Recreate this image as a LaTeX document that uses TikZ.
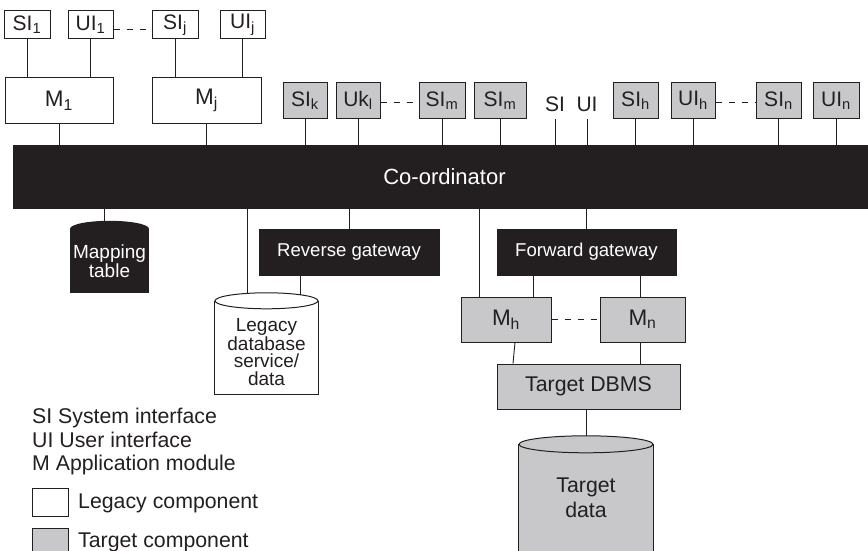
\documentclass[tikz,border=0pt]{standalone}
\usepackage{fontspec}
\setmainfont{Liberation Sans}
\usetikzlibrary{calc,backgrounds}
\definecolor{ink}{HTML}{231F20}
\definecolor{tgray}{HTML}{C8C8CA}
\begin{document}
\begin{tikzpicture}[x=1pt,y=-1pt,
  box/.style={draw=ink, line width=1pt, inner sep=0pt, text=ink, font=\fontsize{21}{23}\selectfont},
  legbox/.style={box, fill=white},
  tbox/.style={box, fill=tgray},
  blk/.style={fill=ink, draw=ink, inner sep=0pt, text=white, font=\fontsize{18.6}{21}\selectfont},
  plain/.style={inner sep=0pt, text=ink, font=\fontsize{21}{23}\selectfont},
  cyl/.style={inner sep=0pt},
  conn/.style={draw=ink, line width=0.9pt},
  dashconn/.style={conn, dash pattern=on 6pt off 7pt},
]
\useasboundingbox (0,0) rectangle (868,551);

% top-left legacy interfaces
\node[legbox, minimum width=46pt, minimum height=28pt] (si1) at (27,25) {SI\textsubscript{1}};
\node[legbox, minimum width=45pt, minimum height=28pt] (ui1) at (90.5,25) {UI\textsubscript{1}};
\node[legbox, minimum width=46pt, minimum height=28pt] (sij) at (175,25) {SI\textsubscript{j}};
\node[legbox, minimum width=45pt, minimum height=28pt] (uij) at (242.5,25) {UI\textsubscript{j}};
\node[legbox, minimum width=108pt, minimum height=45pt, font=\fontsize{22.5}{24}\selectfont] (m1) at (59,100.5) {M\textsubscript{1}};
\node[legbox, minimum width=109pt, minimum height=45pt, font=\fontsize{22.5}{24}\selectfont] (mj) at (206.5,100.5) {M\textsubscript{j}};

% top row target interfaces
\node[tbox, minimum width=44pt, minimum height=35pt] (sik) at (305,100.5) {SI\textsubscript{k}};
\node[tbox, minimum width=44pt, minimum height=35pt] (ukl) at (358,100.5) {Uk\textsubscript{l}};
\node[tbox, minimum width=46pt, minimum height=35pt] (sim) at (442,100.5) {SI\textsubscript{m}};
\node[tbox, minimum width=52pt, minimum height=35pt] (simb) at (500,100.5) {SI\textsubscript{m}};
\node[plain, minimum height=30pt] (si0) at (555,104) {SI};
\node[plain, minimum height=30pt] (ui0) at (587,104) {UI};
\node[tbox, minimum width=45pt, minimum height=35pt] (sih) at (635.5,100.5) {SI\textsubscript{h}};
\node[tbox, minimum width=44pt, minimum height=35pt] (uih) at (693,100.5) {UI\textsubscript{h}};
\node[tbox, minimum width=45pt, minimum height=35pt] (sin) at (778.5,100.5) {SI\textsubscript{n}};
\node[tbox, minimum width=46pt, minimum height=35pt] (uin) at (836,100.5) {UI\textsubscript{n}};

% coordinator
\node[blk, minimum width=855pt, minimum height=63pt, font=\fontsize{22}{24}\selectfont] (coord) at (440.5,176.5) {\hspace{8pt}Co-ordinator};

% gateways
\node[blk, minimum width=180pt, minimum height=46pt] (rg) at (349,252) {Reverse gateway\hspace{14pt}};
\node[blk, minimum width=179pt, minimum height=46pt] (fg) at (586.5,252) {Forward gateway\hspace{14pt}};

% target modules
\node[tbox, minimum width=90pt, minimum height=45pt, font=\fontsize{22.5}{24}\selectfont] (mh) at (506,319.5) {M\textsubscript{h}};
\node[tbox, minimum width=85pt, minimum height=45pt, font=\fontsize{22.5}{24}\selectfont] (mn) at (642.5,319.5) {M\textsubscript{n}};
\node[tbox, minimum width=183pt, minimum height=45pt, font=\fontsize{21.3}{23}\selectfont] (db) at (588.5,386.5) {Target DBMS};

% cylinders (geometry nodes)
\node[cyl, minimum width=79pt, minimum height=64pt, text=white, align=center, font=\fontsize{19}{17.7}\selectfont] (map) at (109.5,261) {Mapping\\table};
\node[cyl, minimum width=103pt, minimum height=93pt] (leg) at (266.5,347.5) {};
\node[plain, align=center, font=\fontsize{19}{17.4}\selectfont] (legt) at (266.5,352) {Legacy\\database\\service/\\data};
\node[cyl, minimum width=134pt, minimum height=116pt] (td) at (586,502.5) {};
\node[plain, align=center, font=\fontsize{21.3}{25}\selectfont] (tdt) at (586,497.5) {Target\\data};

\begin{scope}[on background layer]
  \fill[ink] (map.north west) rectangle (map.south east);
  \fill[ink] (map.north) ellipse [x radius=39.5pt, y radius=8pt];
  \draw[ink, line width=1pt, fill=white] (leg.north west) -- (leg.south west) -- (leg.south east) -- (leg.north east);
  \draw[ink, line width=1pt, fill=white] (leg.north) ellipse [x radius=51.5pt, y radius=8pt];
  \draw[ink, line width=1pt, fill=tgray] (td.north west) -- (td.south west) -- (td.south east) -- (td.north east);
  \draw[ink, line width=1pt, fill=tgray] (td.north) ellipse [x radius=67pt, y radius=8.5pt];
\end{scope}

% legend
\node[plain, anchor=west, align=left, font=\fontsize{21.3}{23.5}\selectfont] (key) at (32,441.5) {SI System interface\\UI User interface\\M Application module};
\node[legbox, minimum width=36pt, minimum height=28pt] (lg1) at (50,502) {};
\node[tbox, minimum width=36pt, minimum height=30pt] (lg2) at (50,543) {};
\node[plain, anchor=west, font=\fontsize{21.3}{23}\selectfont] (lg1t) at (78,503) {Legacy component};
\node[plain, anchor=west, font=\fontsize{21.3}{23}\selectfont] (lg2t) at (78,542) {Target component};

% connectors: top
\draw[conn] (si1.south) -- (si1.south |- m1.north);
\draw[conn] (ui1.south) -- (ui1.south |- m1.north);
\draw[conn] (sij.south) -- (sij.south |- mj.north);
\draw[conn] (uij.south) -- (uij.south |- mj.north);
\draw[conn] (m1.south) -- (m1.south |- coord.north);
\draw[conn] (mj.south) -- (mj.south |- coord.north);
\foreach \n in {sik,ukl,sim,simb,si0,ui0,sih,uih,sin,uin}
  \draw[conn] (\n.south) -- (\n.south |- coord.north);
\draw[dashconn] ([yshift=-4pt]ui1.east) -- ([yshift=-4pt]sij.west);
\draw[dashconn] ([yshift=-1.5pt]ukl.east) -- ([yshift=-1.5pt]sim.west);
\draw[dashconn] ([yshift=-1.5pt]uih.east) -- ([yshift=-1.5pt]sin.west);

% connectors: below coordinator
\coordinate (mapT) at ([xshift=-5.5pt]map.north);
\draw[conn] (mapT |- coord.south) -- (mapT);
\coordinate (legL) at ([xshift=-19.5pt,yshift=7.4pt]leg.north);
\coordinate (legR) at ([xshift=33.5pt,yshift=6.1pt]leg.north);
\draw[conn] (legL |- coord.south) -- (legL);
\draw[conn] (rg.north |- coord.south) -- (rg.north);
\draw[conn] (legR |- rg.south) -- (legR);
\draw[conn] (fg.north |- coord.south) -- (fg.north);
\coordinate (mhL) at ([xshift=-27pt]mh.north);
\coordinate (mhR) at ([xshift=27pt]mh.north);
\draw[conn] (mhL |- coord.south) -- (mhL);
\draw[conn] (mhR |- fg.south) -- (mhR);
\draw[conn] ([xshift=-2.5pt]mn.north |- fg.south) -- ([xshift=-2.5pt]mn.north);
\draw[dashconn] (mh.east) -- (mn.west);
\draw[conn] ([xshift=9pt]mh.south) -- ([xshift=7pt]mh.south |- db.north);
\draw[conn] ([xshift=-2.5pt]mn.south) -- ([xshift=-2.5pt]mn.south |- db.north);
\coordinate (tdT) at ([yshift=8.5pt]td.north);
\draw[conn] (tdT |- db.south) -- (tdT);
\end{tikzpicture}
\end{document}
